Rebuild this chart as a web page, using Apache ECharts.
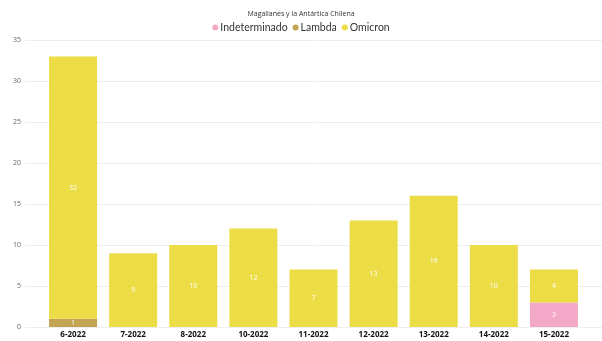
<!DOCTYPE html>
<html><head><meta charset="utf-8">
<script src="https://cdn.jsdelivr.net/npm/echarts@6/dist/echarts.min.js"></script>
<style>html,body{margin:0;padding:0;background:#fff}#c{width:602px;height:341px}</style>
</head><body><div id="c"></div>
<script>
const categories = ['6-2022','7-2022','8-2022','10-2022','11-2022','12-2022','13-2022','14-2022','15-2022'];
const indeterminado = [null,null,null,null,null,null,null,null,3];
const lambda = [1,null,null,null,null,null,null,null,null];
const omicron = [32,9,10,12,7,13,16,10,4];
const yTicks = [0,5,10,15,20,25,30,35];

const chart = echarts.init(document.getElementById('c'));
const lbl = {show:true, position:'inside', color:'#fff', fontSize:7, fontFamily:'Open Sans'};
chart.setOption({
  animation:false,
  title:{text:'Magallanes y la Antártica Chilena', left:'center', top:5,
    textStyle:{fontSize:7, fontWeight:'normal', color:'#333', fontFamily:'Open Sans'}},
  legend:{top:17, left:'center', icon:'circle', itemWidth:6, itemHeight:6, itemGap:5,
    textStyle:{fontSize:10.5, color:'#333', fontFamily:'Lato', padding:[0,0,0,-3]},
    data:['Indeterminado','Lambda','Omicron']},
  grid:[
    {left:43, right:18, top:40, bottom:14},
    {left:25, right:0, top:40, bottom:14}
  ],
  xAxis:[
    {type:'category', data:categories, gridIndex:0, axisLine:{show:false}, axisTick:{show:false},
      axisLabel:{color:'#111', fontWeight:'bold', fontSize:8, margin:4, fontFamily:'Open Sans'}},
    {type:'category', data:[''], gridIndex:1, show:false}
  ],
  yAxis:[
    {type:'value', gridIndex:0, min:0, max:35, interval:5, show:false, splitLine:{show:false}},
    {type:'value', gridIndex:1, min:0, max:35, interval:5,
      axisLabel:{color:'#666', fontSize:7, margin:4, fontFamily:'Open Sans'},
      splitLine:{lineStyle:{color:'#eeeeee', width:1}}, axisLine:{show:false}, axisTick:{show:false}}
  ],
  series:[
    {name:'Indeterminado', type:'bar', stack:'a', data:indeterminado, barWidth:48, itemStyle:{color:'#F4A8C8'}, label:lbl},
    {name:'Lambda', type:'bar', stack:'a', data:lambda, barWidth:48, itemStyle:{color:'#C2A452'}, label:lbl},
    {name:'Omicron', type:'bar', stack:'a', data:omicron, barWidth:48, itemStyle:{color:'#ECDC46'}, label:lbl}
  ]
});
</script></body></html>
